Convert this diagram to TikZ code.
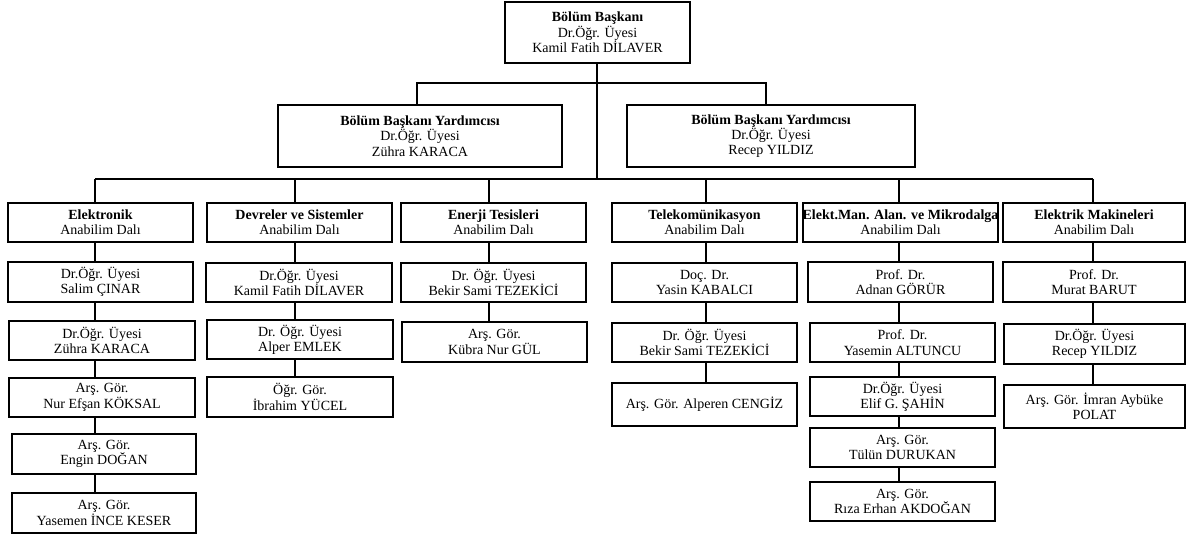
\documentclass[tikz,border=0pt]{standalone}
\usepackage{fontspec}
\setmainfont{Liberation Serif}
\newcommand\vlink[3]{\draw[conn] (#1 |- #2.south) -- (#1 |- #3.north);}
\begin{document}
\begin{tikzpicture}[x=1pt,y=-1pt,
  box/.style={draw, line width=1.8pt, inner sep=0pt, align=center,
    font=\fontsize{14}{15.3}\selectfont},
  conn/.style={line width=1.4pt}]
\useasboundingbox (0,0) rectangle (1187,540);
% top levels
\node[box, minimum width=185pt, minimum height=61pt] (top) at (597.5,32.5) {\textbf{Bölüm Başkanı}\\Dr.Öğr. Üyesi\\Kamil Fatih DİLAVER};
\node[box, minimum width=284pt, minimum height=62pt] (vpl) at (420,136) {\textbf{Bölüm Başkanı Yardımcısı}\\Dr.Öğr. Üyesi\\Zühra KARACA};
\node[box, minimum width=288pt, minimum height=62pt] (vpr) at (771,136) {\textbf{Bölüm Başkanı Yardımcısı}\\Dr.Öğr. Üyesi\\Recep YILDIZ};
% column 1
\node[box, minimum width=185pt, minimum height=39pt] (c1h) at (100.5,222.5) {\textbf{Elektronik}\\Anabilim Dalı};
\node[box, minimum width=185pt, minimum height=40pt] (c1a) at (100.5,282) {Dr.Öğr. Üyesi\\Salim ÇINAR};
\node[box, minimum width=186pt, minimum height=39pt] (c1b) at (102,340.5) {Dr.Öğr. Üyesi\\Zühra KARACA};
\node[box, minimum width=186pt, minimum height=39pt] (c1c) at (102,397.5) {Arş. Gör.\\Nur Efşan KÖKSAL};
\node[box, minimum width=184pt, minimum height=40pt] (c1d) at (104,454) {Arş. Gör.\\Engin DOĞAN};
\node[box, minimum width=184pt, minimum height=40pt] (c1e) at (104,513) {Arş. Gör.\\Yasemen İNCE KESER};
% column 2
\node[box, minimum width=185pt, minimum height=39pt] (c2h) at (299.5,222.5) {\textbf{Devreler ve Sistemler}\\Anabilim Dalı};
\node[box, minimum width=186pt, minimum height=39pt] (c2a) at (299,282.5) {Dr.Öğr. Üyesi\\Kamil Fatih DİLAVER};
\node[box, minimum width=186pt, minimum height=39pt] (c2b) at (300,339.5) {Dr. Öğr. Üyesi\\Alper EMLEK};
\node[box, minimum width=186pt, minimum height=40pt] (c2c) at (300,397) {Öğr. Gör.\\İbrahim YÜCEL};
% column 3
\node[box, minimum width=185pt, minimum height=39pt] (c3h) at (493.5,222.5) {\textbf{Enerji Tesisleri}\\Anabilim Dalı};
\node[box, minimum width=185pt, minimum height=39pt] (c3a) at (493.5,282.5) {Dr. Öğr. Üyesi\\Bekir Sami TEZEKİCİ};
\node[box, minimum width=185pt, minimum height=40pt] (c3b) at (494.5,342) {Arş. Gör.\\Kübra Nur GÜL};
% column 4
\node[box, minimum width=185pt, minimum height=39pt] (c4h) at (704.5,222.5) {\textbf{Telekomünikasyon}\\Anabilim Dalı};
\node[box, minimum width=185pt, minimum height=39pt] (c4a) at (704.5,282.5) {Doç. Dr.\\Yasin KABALCI};
\node[box, minimum width=185pt, minimum height=39pt] (c4b) at (704.5,342.5) {Dr. Öğr. Üyesi\\Bekir Sami TEZEKİCİ};
\node[box, minimum width=185pt, minimum height=43pt] (c4c) at (704.5,404.5) {Arş. Gör. Alperen CENGİZ};
% column 5
\node[box, minimum width=185pt, minimum height=39pt] (c5h) at (900.5,222.5) {\textbf{Elekt.Man. Alan. ve Mikrodalga}\\Anabilim Dalı};
\node[box, minimum width=185pt, minimum height=40pt] (c5a) at (900.5,282) {Prof. Dr.\\Adnan GÖRÜR};
\node[box, minimum width=185pt, minimum height=39pt] (c5b) at (902.5,342.5) {Prof. Dr.\\Yasemin ALTUNCU};
\node[box, minimum width=185pt, minimum height=39pt] (c5c) at (902.5,396.5) {Dr.Öğr. Üyesi\\Elif G. ŞAHİN};
\node[box, minimum width=185pt, minimum height=39pt] (c5d) at (902.5,447.5) {Arş. Gör.\\Tülün DURUKAN};
\node[box, minimum width=185pt, minimum height=39pt] (c5e) at (902.5,501.5) {Arş. Gör.\\Rıza Erhan AKDOĞAN};
% column 6
\node[box, minimum width=182pt, minimum height=39pt] (c6h) at (1094,222.5) {\textbf{Elektrik Makineleri}\\Anabilim Dalı};
\node[box, minimum width=182pt, minimum height=40pt] (c6a) at (1094,282) {Prof. Dr.\\Murat BARUT};
\node[box, minimum width=181pt, minimum height=40pt] (c6b) at (1094.5,344) {Dr.Öğr. Üyesi\\Recep YILDIZ};
\node[box, minimum width=181pt, minimum height=43pt] (c6c) at (1094.5,406.5) {Arş. Gör. İmran Aybüke\\POLAT};
% bus coordinates
\coordinate (tr) at (597,83);
\coordinate (k1) at (417,83);
\coordinate (k2) at (766,83);
\coordinate (col1) at (95,179);
\coordinate (col2) at (295,179);
\coordinate (col3) at (489,179);
\coordinate (col4) at (706,179);
\coordinate (col5) at (899,179);
\coordinate (col6) at (1093,179);
% connectors
\draw[conn] (tr |- top.south) -- (tr |- col1);
\draw[conn] (k1 |- vpl.north) -- (k1) -- (k2) -- (k2 |- vpr.north);
\draw[conn] (col1) -- (col6);
\draw[conn] (col1) -- (col1 |- c1h.north);
\draw[conn] (col2) -- (col2 |- c2h.north);
\draw[conn] (col3) -- (col3 |- c3h.north);
\draw[conn] (col4) -- (col4 |- c4h.north);
\draw[conn] (col5) -- (col5 |- c5h.north);
\draw[conn] (col6) -- (col6 |- c6h.north);
\vlink{col1}{c1h}{c1a}\vlink{col1}{c1a}{c1b}\vlink{col1}{c1b}{c1c}\vlink{col1}{c1c}{c1d}\vlink{col1}{c1d}{c1e}
\vlink{col2}{c2h}{c2a}\vlink{col2}{c2a}{c2b}\vlink{col2}{c2b}{c2c}
\vlink{col3}{c3h}{c3a}\vlink{col3}{c3a}{c3b}
\vlink{col4}{c4h}{c4a}\vlink{col4}{c4a}{c4b}\vlink{col4}{c4b}{c4c}
\vlink{col5}{c5h}{c5a}\vlink{col5}{c5a}{c5b}\vlink{col5}{c5b}{c5c}\vlink{col5}{c5c}{c5d}\vlink{col5}{c5d}{c5e}
\vlink{col6}{c6h}{c6a}\vlink{col6}{c6a}{c6b}\vlink{col6}{c6b}{c6c}
\end{tikzpicture}
\end{document}
